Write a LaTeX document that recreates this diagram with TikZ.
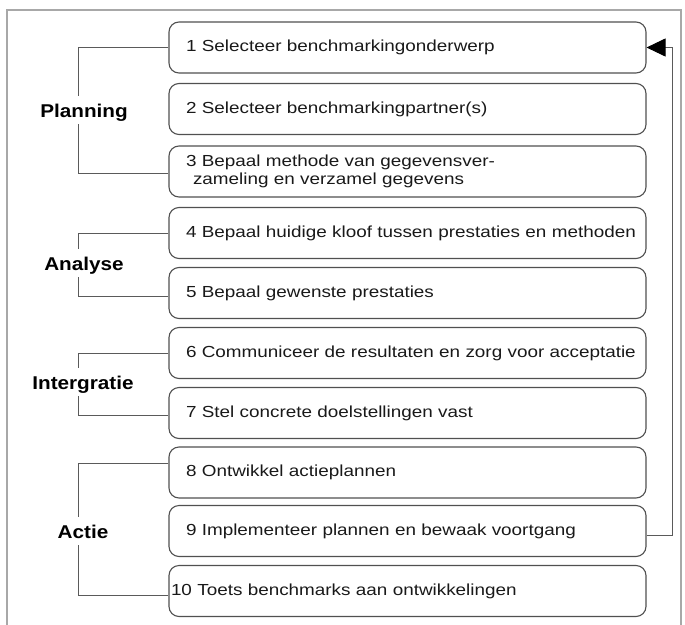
\documentclass[tikz,border=0pt]{standalone}
\usepackage{fontspec}
\setmainfont{Liberation Sans}[FakeStretch=1.18]
\newfontfamily\phasefont{Liberation Sans}[FakeStretch=1.12]
\usetikzlibrary{arrows.meta}
\definecolor{boxgray}{HTML}{505050}
\definecolor{linegray}{HTML}{5A5A5A}
\definecolor{framegray}{HTML}{A8A8A8}

\begin{document}
\begin{tikzpicture}[x=1pt, y=-1pt,
        stepbox/.style={draw=boxgray, line width=1.1pt, rounded corners=10pt, minimum height=51pt,
            inner xsep=2pt, inner ysep=0pt, text width=473pt, align=left,
            execute at begin node={\leftskip=15pt},
            font=\fontsize{16}{18}\selectfont, text=black!90},
        phase/.style={font=\phasefont\fontsize{18.5}{20}\selectfont\bfseries, anchor=base,
            text height=21pt, text depth=7pt, inner ysep=0pt},
        bracket/.style={draw=linegray, line width=1pt}]
        \useasboundingbox (0,0) rectangle (685,624);
        \draw[framegray, line width=1.2pt] (7,640) -- (7,10) -- (681,10) -- (681,640);

        \node[stepbox] (s1) at (407.5,47.5) {1 Selecteer benchmarkingonderwerp};
        \node[stepbox] (s2) at (407.5,109) {2 Selecteer benchmarkingpartner(s)};
        \node[stepbox] (s3) at (407.5,171.5) {3 Bepaal methode van gegevensver-\\\hspace*{7pt}zameling en verzamel gegevens};
        \node[stepbox] (s4) at (407.5,233) {4 Bepaal huidige kloof tussen prestaties en methoden};
        \node[stepbox] (s5) at (407.5,293) {5 Bepaal gewenste prestaties};
        \node[stepbox] (s6) at (407.5,353) {6 Communiceer de resultaten en zorg voor acceptatie};
        \node[stepbox] (s7) at (407.5,413) {7 Stel concrete doelstellingen vast};
        \node[stepbox] (s8) at (407.5,472.5) {8 Ontwikkel actieplannen};
        \node[stepbox] (s9) at (407.5,531) {9 Implementeer plannen en bewaak voortgang};
        \node[stepbox, execute at begin node={\leftskip=0pt}] (s10) at (407.5,591) {10 Toets benchmarks aan ontwikkelingen};

        \node[phase] (planning) at (84,117) {Planning};
        \node[phase] (analyse) at (84,270) {Analyse};
        \node[phase] (integratie) at (83,389) {Intergratie};
        \node[phase] (actie) at (83,538) {Actie};

        \coordinate (bar) at (78,0);
        \coordinate (back) at (672,0);

        \draw[bracket] (s1.west) -| (bar |- planning.north);
        \draw[bracket] (bar |- planning.south) |- ([yshift=-2pt]s3.west);
        \draw[bracket] (s4.west) -| (bar |- analyse.north);
        \draw[bracket] (bar |- analyse.south) |- ([yshift=-3pt]s5.west);
        \draw[bracket] (s6.west) -| (bar |- integratie.north);
        \draw[bracket] (bar |- integratie.south) |- ([yshift=-2pt]s7.west);
        \draw[bracket] ([yshift=9pt]s8.west) -| (bar |- actie.north);
        \draw[bracket] (bar |- actie.south) |- ([yshift=-4pt]s10.west);

        \draw[bracket, -{Triangle[length=19pt, width=18pt, color=black]}] ([yshift=-4pt]s9.east) -| (back |- s1.east) -- (s1.east);
\end{tikzpicture}
\end{document}
